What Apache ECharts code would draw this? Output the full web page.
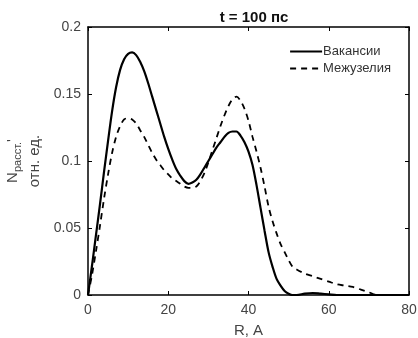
<!DOCTYPE html>
<html>
<head>
<meta charset="utf-8">
<script src="https://cdn.jsdelivr.net/npm/echarts@6/dist/echarts.min.js"></script>
<style>
  html, body { margin: 0; padding: 0; background: #fff; }
  #chart { width: 418px; height: 338px; }
</style>
</head>
<body>
<div id="chart"></div>
<script>
// R, A
const rValues = [
  0, 1, 2, 3, 4, 5, 6, 7, 8, 9, 10, 11, 12, 13, 14, 15, 16, 17, 18, 19,
  20, 21, 22, 23, 24, 25, 26, 27, 28, 29, 30, 31, 32, 33, 34, 35, 36, 37, 38, 39,
  40, 41, 42, 43, 44, 45, 46, 47, 48, 49, 50, 51, 52,
  54, 56, 58, 60, 62, 64, 66, 68, 70, 72, 74, 76, 78, 80
];

// Вакансии
const vacancies = [
  0, 0.022, 0.045, 0.068, 0.092, 0.115, 0.137, 0.155, 0.168, 0.176,
  0.180, 0.181, 0.179, 0.174, 0.167, 0.158, 0.148, 0.138, 0.128, 0.118,
  0.109, 0.101, 0.094, 0.089, 0.085, 0.083, 0.084, 0.086, 0.090, 0.095,
  0.100, 0.105, 0.110, 0.114, 0.118, 0.121, 0.122, 0.122, 0.119, 0.114,
  0.107, 0.097, 0.082, 0.065, 0.048, 0.032, 0.021, 0.012, 0.007, 0.003,
  0.001, 0, 0,
  0.001, 0.0015, 0.001, 0.0005, 0, 0, 0, 0, 0, 0, 0, 0, 0, 0
];

// Межузелия
const interstitials = [
  0, 0.015, 0.033, 0.052, 0.072, 0.090, 0.106, 0.118, 0.126, 0.131,
  0.132, 0.131, 0.128, 0.123, 0.118, 0.112, 0.106, 0.101, 0.097, 0.093,
  0.090, 0.087, 0.085, 0.083, 0.081, 0.080, 0.080, 0.081, 0.085, 0.091,
  0.099, 0.108, 0.117, 0.126, 0.134, 0.141, 0.146, 0.148, 0.145, 0.139,
  0.130, 0.118, 0.107, 0.095, 0.081, 0.066, 0.055, 0.046, 0.038, 0.032,
  0.026, 0.021, 0.019,
  0.016, 0.014, 0.012, 0.010, 0.008, 0.007, 0.006, 0.004, 0.002, 0, 0, 0, 0, 0
];

const chart = echarts.init(document.getElementById('chart'));
const font = 'Liberation Sans, Arial, sans-serif';

const hiddenAxis = {
  min: 0,
  axisLine: { show: true, onZero: false, lineStyle: { color: '#000', width: 1.5 } },
  axisTick: { show: true, inside: true, length: 4, lineStyle: { color: '#000' } },
  axisLabel: { show: false },
  splitLine: { show: false }
};

chart.setOption({
  animation: false,
  title: {
    text: 't = 100 пс',
    left: 249,
    textAlign: 'center',
    top: 5,
    textStyle: { fontFamily: font, fontSize: 15, fontWeight: 'bold', color: '#111' }
  },
  legend: {
    orient: 'vertical',
    right: 22,
    top: 40,
    itemWidth: 32,
    itemHeight: 12,
    itemGap: 4,
    data: ['Вакансии', 'Межузелия'],
    itemStyle: { color: 'transparent', borderWidth: 0, opacity: 0 },
    textStyle: { fontFamily: font, fontSize: 13, color: '#333', padding: [0, 0, 0, -4] }
  },
  grid: { left: 88, right: 9, top: 27, bottom: 43, containLabel: false, outerBoundsMode: 'none' },
  xAxis: [
    {
      type: 'value',
      min: 0,
      max: 80,
      interval: 20,
      name: 'R, A',
      nameLocation: 'middle',
      nameGap: 28,
      nameTextStyle: { fontFamily: font, fontSize: 15, color: '#444' },
      axisLine: { show: true, onZero: false, lineStyle: { color: '#000', width: 1.5 } },
      axisTick: { show: true, inside: true, length: 4, lineStyle: { color: '#000' } },
      axisLabel: { fontFamily: font, fontSize: 14, color: '#444', margin: 8 },
      splitLine: { show: false }
    },
    Object.assign({ type: 'value', position: 'top', max: 80, interval: 20 }, hiddenAxis)
  ],
  yAxis: [
    {
      type: 'value',
      min: 0,
      max: 0.2,
      interval: 0.05,
      name: '{n|N}{s|расст.}{n|\'}\n{n|отн. ед.}',
      nameLocation: 'middle',
      nameGap: 39,
      nameTextStyle: {
        fontFamily: font,
        color: '#444',
        rich: {
          n: { fontFamily: font, fontSize: 15, color: '#444', lineHeight: 22 },
          s: { fontFamily: font, fontSize: 11, color: '#444', padding: [9, 0, 0, 0] }
        }
      },
      axisLine: { show: true, onZero: false, lineStyle: { color: '#000', width: 1.5 } },
      axisTick: { show: true, inside: true, length: 4, lineStyle: { color: '#000' } },
      axisLabel: { fontFamily: font, fontSize: 14, color: '#444', margin: 7 },
      splitLine: { show: false }
    },
    Object.assign({ type: 'value', position: 'right', max: 0.2, interval: 0.05 }, hiddenAxis)
  ],
  series: [
    {
      name: 'Вакансии',
      type: 'line',
      data: rValues.map((r, i) => [r, vacancies[i]]),
      smooth: 0.3,
      symbol: 'none',
      lineStyle: { color: '#000', width: 2.2, type: 'solid' },
      itemStyle: { color: '#000' }
    },
    {
      name: 'Межузелия',
      type: 'line',
      data: rValues.map((r, i) => [r, interstitials[i]]),
      smooth: 0.3,
      symbol: 'none',
      lineStyle: { color: '#000', width: 1.8, type: [6, 5] },
      itemStyle: { color: '#000' }
    }
  ]
});
</script>
</body>
</html>
